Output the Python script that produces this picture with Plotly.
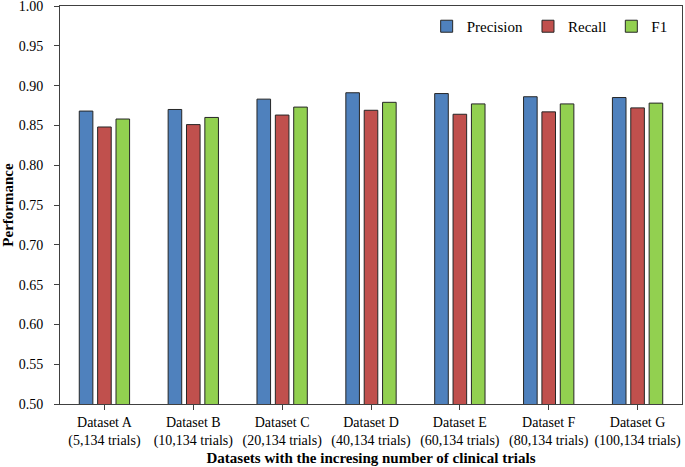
import plotly.graph_objects as go

categories = ["Dataset A<br>(5,134 trials)", "Dataset B<br>(10,134 trials)", "Dataset C<br>(20,134 trials)",
              "Dataset D<br>(40,134 trials)", "Dataset E<br>(60,134 trials)", "Dataset F<br>(80,134 trials)",
              "Dataset G<br>(100,134 trials)"]
precision = [0.868, 0.870, 0.883, 0.891, 0.890, 0.886, 0.885]
recall = [0.848, 0.851, 0.863, 0.869, 0.864, 0.867, 0.872]
f1 = [0.858, 0.860, 0.873, 0.879, 0.877, 0.877, 0.878]
y_ticks = [0.50, 0.55, 0.60, 0.65, 0.70, 0.75, 0.80, 0.85, 0.90, 0.95, 1.00]

font_family = "Liberation Serif"

fig = go.Figure()
for name, vals, color in [("Precision", precision, "#4F81BD"),
                          ("Recall", recall, "#C0504D"),
                          ("F1", f1, "#92D050")]:
    fig.add_trace(go.Bar(x=categories, y=vals, name=name,
                         marker=dict(color=color, line=dict(color="#262626", width=1))))

fig.update_layout(
    width=685, height=467,
    margin=dict(l=60, r=3, t=6, b=63, autoexpand=False),
    barmode="group", bargap=0.38, bargroupgap=0.26,
    plot_bgcolor="white", paper_bgcolor="white",
    font=dict(family=font_family, size=14, color="#000000"),
    legend=dict(orientation="h", x=0.985, xanchor="right", y=0.99, yanchor="top",
                font=dict(size=15), bgcolor="rgba(0,0,0,0)", traceorder="normal",
                itemwidth=30),
    xaxis=dict(showline=True, linecolor="#404040", linewidth=1, mirror=True,
               ticks="outside", ticklen=5, tickcolor="#404040", automargin=False,
               tickfont=dict(size=14),
               title=dict(text="<b>Datasets with the incresing number of clinical trials</b>",
                          font=dict(size=15), standoff=4)),
    yaxis=dict(range=[0.5, 1.0], tickvals=y_ticks, tickformat=".2f", automargin=False,
               showline=True, linecolor="#404040", linewidth=1, mirror=True,
               ticks="outside", ticklen=5, tickcolor="#404040", showgrid=False,
               tickfont=dict(size=14), ticklabeloverflow="allow", ticklabelstandoff=8,
               title=dict(text="<b>Performance</b>", font=dict(size=15), standoff=2)),
)

fig.write_html("out.html", config={"displayModeBar": False},
               post_script="document.body.style.margin='0';")
